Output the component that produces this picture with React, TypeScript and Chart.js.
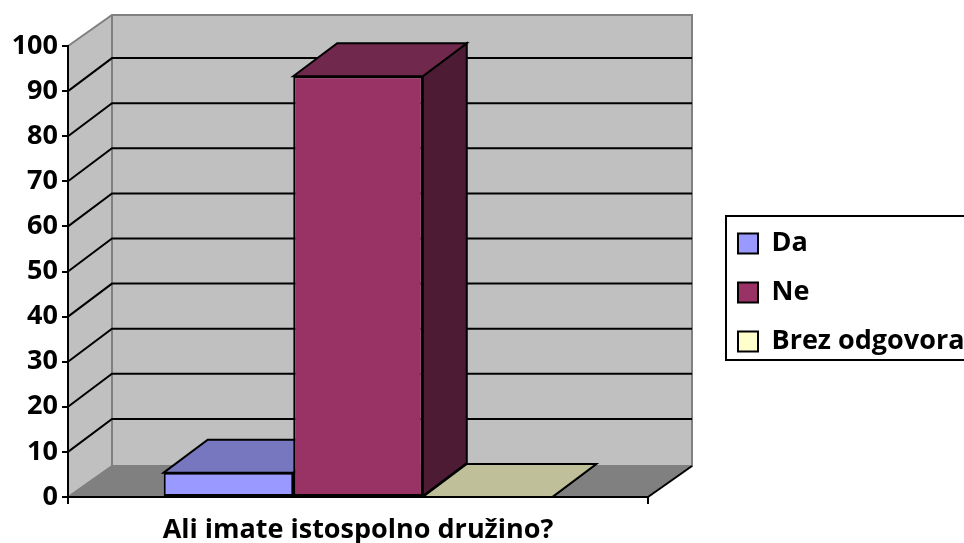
import React, { useEffect, useRef } from "react";
import { Chart, registerables } from "chart.js";

Chart.register(...registerables);

const categories = ["Ali imate istospolno družino?"];
const seriesNames = ["Da", "Ne", "Brez odgovora"];
const daValues = [5.4];
const neValues = [93.3];
const brezValues = [0];
const frontColors = ["#9999FF", "#993366", "#FFFFCC"];
const topColors = ["#7777BF", "#70284D", "#BFBF99"];
const sideColors = ["#4D4D80", "#4D1B33", "#808066"];
const yMax = 100;
const yStep = 10;

const FONT = "Open Sans";
const TICK_SIZE = 27;
const TEXT_SIZE = 27;
const WALL = { dx: 44, dy: -31 };
const DEPTH = { dx: 44, dy: -33 };
const AXIS_W = 68;
const AXIS_H = 46;
const TOP_PAD = 46;
const RIGHT_RESERVED = 316;
const LEGEND_FRAME = { left: 726, top: 216, right: 965, bottom: 360 };

function poly(ctx: CanvasRenderingContext2D, pts: number[][], fill: string | null, stroke: string | null, lw = 2) {
  ctx.beginPath();
  pts.forEach((p, i) => (i ? ctx.lineTo(p[0], p[1]) : ctx.moveTo(p[0], p[1])));
  ctx.closePath();
  if (fill) { ctx.fillStyle = fill; ctx.fill(); }
  if (stroke) { ctx.strokeStyle = stroke; ctx.lineWidth = lw; ctx.lineJoin = "miter"; ctx.stroke(); }
}

const scene3d = {
  id: "scene3d",
  beforeLayout(chart: any) {
    const lg = chart.legend;
    if (lg && !lg.__wrapped) {
      const orig = lg.fit;
      lg.fit = function () { orig.call(this); this.width = RIGHT_RESERVED; };
      lg.__wrapped = true;
    }
  },
  afterLayout(chart: any) {
    const lg = chart.legend;
    const p = chart.options.plugins.legend.labels.padding;
    lg.left = LEGEND_FRAME.left + 12 - p;
    lg.right = LEGEND_FRAME.right;
    lg.top = LEGEND_FRAME.top + 14 - p;
    lg.bottom = chart.height;
  },
  beforeDatasetsDraw(chart: any) {
    const { ctx, chartArea: a, scales } = chart;
    const y = scales.y;
    ctx.save();
    const L = a.left, R = a.right, B = a.bottom, T = a.top;
    const { dx, dy } = WALL;
    poly(ctx, [[L, B], [L + dx, B + dy], [L + dx, T + dy], [L, T]], "#C0C0C0", null);
    poly(ctx, [[L + dx, B + dy], [R + dx, B + dy], [R + dx, T + dy], [L + dx, T + dy]], "#C0C0C0", null);
    poly(ctx, [[L, B], [R, B], [R + dx, B + dy], [L + dx, B + dy]], "#808080", null);
    // wall edges
    ctx.strokeStyle = "#808080";
    ctx.lineWidth = 2;
    ctx.beginPath();
    ctx.moveTo(L, T);
    ctx.lineTo(L + dx, T + dy);
    ctx.lineTo(R + dx, T + dy);
    ctx.lineTo(R + dx, B + dy);
    ctx.lineTo(L + dx, B + dy);
    ctx.lineTo(L + dx, T + dy);
    ctx.moveTo(L + dx, B + dy);
    ctx.lineTo(L, B);
    ctx.stroke();
    // gridlines from the y scale
    y.ticks.forEach((t: any) => {
      if (t.value === 0 || t.value === yMax) return;
      const py = y.getPixelForValue(t.value);
      ctx.beginPath();
      ctx.moveTo(L, py);
      ctx.lineTo(L + DEPTH.dx, py + DEPTH.dy);
      ctx.lineTo(R + DEPTH.dx, py + DEPTH.dy);
      ctx.strokeStyle = "#000";
      ctx.lineWidth = 2;
      ctx.stroke();
    });
    // right floor edge
    ctx.strokeStyle = "#000";
    ctx.beginPath();
    ctx.moveTo(R, B);
    ctx.lineTo(R + dx, B + dy);
    ctx.stroke();
    // depth faces, left to right, before the bar fronts go on
    chart.data.datasets.forEach((_: any, i: number) => {
      const bar = chart.getDatasetMeta(i).data[0] as any;
      const hw = bar.width / 2;
      const x0 = bar.x - hw, x1 = bar.x + hw, yt = bar.y, yb = bar.base;
      const ddx = DEPTH.dx, ddy = DEPTH.dy;
      poly(ctx, [[x1, yt], [x1 + ddx, yt + ddy], [x1 + ddx, yb + ddy], [x1, yb]], sideColors[i], "#000");
      poly(ctx, [[x0, yt], [x0 + ddx, yt + ddy], [x1 + ddx, yt + ddy], [x1, yt]], topColors[i], "#000");
    });
    ctx.restore();
  },
  afterDraw(chart: any) {
    const { ctx } = chart;
    ctx.save();
    ctx.strokeStyle = "#000";
    ctx.lineWidth = 2;
    const f = LEGEND_FRAME;
    ctx.strokeRect(f.left, f.top, f.right - f.left, f.bottom - f.top);
    ctx.restore();
  },
};

export default function App() {
  const ref = useRef<HTMLCanvasElement>(null);
  useEffect(() => {
    const values = [daValues, neValues, brezValues];
    const chart = new Chart(ref.current!, {
      type: "bar",
      data: {
        labels: categories,
        datasets: seriesNames.map((name, i) => ({
          label: name,
          data: values[i],
          backgroundColor: frontColors[i],
          borderColor: "#000",
          borderWidth: 2,
          borderSkipped: false,
          categoryPercentage: 0.67,
          barPercentage: 1,
        })),
      },
      options: {
        responsive: false,
        animation: false,
        layout: { autoPadding: false, padding: { top: TOP_PAD } },
        plugins: {
          tooltip: { enabled: false },
          legend: {
            display: true,
            position: "right",
            align: "start",
            labels: {
              boxWidth: 20,
              boxHeight: 20,
              padding: 22,
              color: "#000",
              font: { family: FONT, size: TEXT_SIZE, weight: "bold" },
            },
          },
        },
        scales: {
          x: {
            offset: true,
            afterFit: (s: any) => { s.height = AXIS_H; },
            grid: { display: true, offset: true, drawOnChartArea: false, drawTicks: true, tickLength: 7, color: "#000", lineWidth: 2 },
            border: { display: true, color: "#000", width: 2, z: 1 },
            ticks: { color: "#000", padding: 10, font: { family: FONT, size: TEXT_SIZE, weight: "bold" }, maxRotation: 0, autoSkip: false },
          },
          y: {
            min: 0,
            max: yMax,
            afterFit: (s: any) => { s.width = AXIS_W; },
            grid: { display: true, drawOnChartArea: false, drawTicks: true, tickLength: 6, color: "#000", lineWidth: 2 },
            border: { display: true, color: "#000", width: 2, z: 1 },
            ticks: { stepSize: yStep, color: "#000", padding: 4, font: { family: FONT, size: TICK_SIZE, weight: "bold" } },
          },
        },
      },
      plugins: [scene3d],
    } as any);
    return () => chart.destroy();
  }, []);
  return (
    <div style={{ position: "absolute", left: 0, top: 0 }}>
      <canvas ref={ref} width={964} height={543} style={{ display: "block" }} />
    </div>
  );
}
